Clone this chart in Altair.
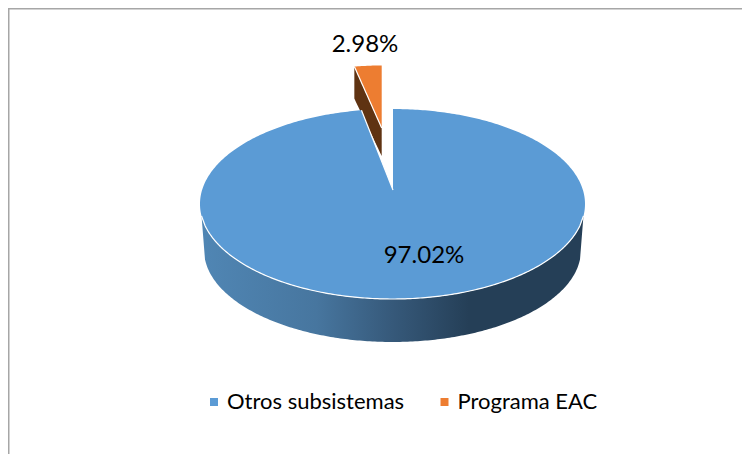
import math
import altair as alt
import numpy as np
import pandas as pd

categories = ["Otros subsistemas", "Programa EAC"]
shares = [97.02, 2.98]
colors = ["#5B9BD5", "#ED7D31"]

FONT = "Lato"
W, H = 734, 446
cx, cy, rx, ry = 392.5, 204.0, 192.5, 95.0      # main disc
ax, ay = 393.0, 190.0                           # main slice apex
kx = 0.88                                       # perspective on the notch edge
sx, sy, srx, sry = 381.7, 128.0, 147.0, 62.5    # exploded slice
bcy, brx, bry = 250.0, 188.5, 92.0              # rim lower outline

theta = 2 * math.pi * shares[1] / sum(shares)

def upper(x):
    return cy - ry * np.sqrt(np.clip(1 - ((x - cx) / rx) ** 2, 0, 1))

def lower(x):
    return cy + ry * np.sqrt(np.clip(1 - ((x - cx) / rx) ** 2, 0, 1))

# main slice
xl = ax - rx * math.sin(theta) * kx
yl = float(upper(xl))
t = np.linspace(math.pi, 0, 241)
xs = cx + rx * np.cos(t)
left = xs[xs < xl]
right = xs[xs > ax + 0.01]
notch = np.linspace(xl, ax, 12)
main_x = np.concatenate([left, notch, [ax + 0.01], right])
main_top = np.concatenate([
    upper(left),
    yl + (notch - xl) / (ax - xl) * (ay - yl),
    [float(upper(ax))],
    upper(right),
])
main_bot = lower(main_x)

# exploded slice
px0 = sx - srx * math.sin(theta)
px = np.linspace(px0, sx, 16)
ptop = sy - sry * np.sqrt(1 - ((sx - px) / srx) ** 2)
py0 = float(ptop[0])
pbot = py0 + (px - px0) / (sx - px0) * (sy - py0)

top_df = pd.concat([
    pd.DataFrame({"x": main_x, "y": main_top, "y2": main_bot, "cat": categories[0]}),
    pd.DataFrame({"x": px, "y": ptop, "y2": pbot, "cat": categories[1]}),
], ignore_index=True)

# cut face of the exploded slice
face_df = pd.DataFrame({
    "x": px,
    "y": pbot,
    "y2": pbot + np.linspace(32, 28, len(px)),
})

# rim
side_x0 = cx - math.sqrt(1 - (12 / ry) ** 2) * rx
side_x1 = 2 * cx - side_x0
bx0, bx1 = cx - brx + 1, cx + brx - 1
mid = cx + rx * np.cos(np.linspace(math.pi, 0, 241))
mid = mid[(mid > bx0) & (mid < bx1)]
side_x = np.concatenate([[side_x0, bx0], mid, [bx1, side_x1]])
side_top = lower(side_x)
side_bot = bcy + bry * np.sqrt(np.clip(1 - ((side_x - cx) / brx) ** 2, 0, 1))
side_bot[0] = side_top[0]
side_bot[-1] = side_top[-1]
side_df = pd.DataFrame({"x": side_x, "y": side_top, "y2": side_bot})

# white edge lines
edge_df = pd.DataFrame({"x": side_x, "y": side_top})
n1 = pd.DataFrame({"x": [xl, ax], "y": [yl, ay]})
n2 = pd.DataFrame({"x": [px0, sx], "y": [py0, sy]})

X = alt.X("x:Q", axis=None, scale=alt.Scale(domain=[8, 8 + W], nice=False, zero=False))
Y = alt.Y("y:Q", axis=None, scale=alt.Scale(domain=[8 + H, 8], nice=False, zero=False))

side_fill = alt.Gradient(
    gradient="linear", x1=0, x2=1, y1=0, y2=0,
    stops=[
        alt.GradientStop(color="#5086B4", offset=0),
        alt.GradientStop(color="#47769F", offset=0.3),
        alt.GradientStop(color="#36597A", offset=0.5),
        alt.GradientStop(color="#253F57", offset=0.7),
        alt.GradientStop(color="#253F57", offset=1),
    ],
)

frame_top = alt.Chart(pd.DataFrame({"v": [0]})).mark_rule(color="#A6A6A6", strokeWidth=1.5).encode(
    x=alt.value(0), x2=alt.value(W), y=alt.value(0.75))
frame_left = alt.Chart(pd.DataFrame({"v": [0]})).mark_rule(color="#A6A6A6", strokeWidth=1.5).encode(
    x=alt.value(0.75), y=alt.value(0), y2=alt.value(H))

side = alt.Chart(side_df).mark_area(fill=side_fill).encode(x=X, y=Y, y2="y2:Q")
face = alt.Chart(face_df).mark_area(color="#5F3312").encode(x=X, y=Y, y2="y2:Q")
tops = alt.Chart(top_df).mark_area(opacity=1).encode(
    x=X, y=Y, y2="y2:Q",
    color=alt.Color(
        "cat:N",
        scale=alt.Scale(domain=categories, range=colors),
        legend=alt.Legend(
            orient="none", legendX=195, legendY=383, direction="horizontal", title=None,
            symbolType="square", symbolSize=64, labelFont=FONT, labelFontSize=22,
            labelColor="#000000", columnPadding=28.5, labelOffset=2, labelLimit=400,
        ),
    ),
)
edge = alt.Chart(edge_df).mark_line(color="#FFFFFF", strokeWidth=1.2).encode(x=X, y=Y)
edge1 = alt.Chart(n1).mark_line(color="#FFFFFF", strokeWidth=1.2).encode(x=X, y=Y)
edge2 = alt.Chart(n2).mark_line(color="#FFFFFF", strokeWidth=1.2).encode(x=X, y=Y)

labels = alt.Chart(pd.DataFrame({
    "x": [424.0, 365.0],
    "y": [256.0, 45.0],
    "t": [f"{v:.2f}%" for v in shares],
})).mark_text(font=FONT, fontSize=24, color="#000000", align="center", baseline="middle").encode(x=X, y=Y, text="t:N")

chart = alt.layer(frame_top, frame_left, side, face, tops, edge, edge1, edge2, labels).properties(
    width=W, height=H, padding=0, background="#FFFFFF",
    autosize=alt.AutoSizeParams(type="none"),
).configure_view(stroke=None)

chart.save("out.html", embed_options={"renderer": "svg", "actions": False})
